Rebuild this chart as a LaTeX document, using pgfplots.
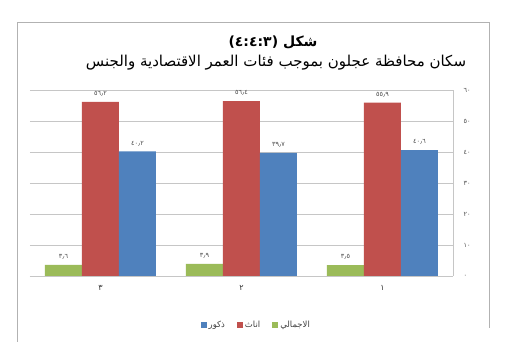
\documentclass[border=0pt]{standalone}
\usepackage{pgfplots}
\pgfplotsset{compat=1.18}
\usepackage{fontspec}
\setmainfont{Liberation Sans}
\newfontfamily\arabicfont[Script=Arabic]{DejaVu Sans}
\TeXXeTstate=1
\definecolor{cgreen}{HTML}{9BBB59}
\definecolor{cred}{HTML}{C0504D}
\definecolor{cblue}{HTML}{4F81BD}
\begin{document}
\begin{tikzpicture}[x=1pt,y=1pt]
\path (0,0) rectangle (507,354);
\draw[gray!60, line width=0.8pt] (17,12)--(17,332)--(489,332)--(489,26);
\node[font=\arabicfont\bfseries\fontsize{14}{15}\selectfont] at (273,312) {\beginR\hbox{شكل}\ \hbox{(٤:٤:٣)}\endR};
\node[font=\arabicfont\fontsize{15}{16}\selectfont] at (276,291) {\beginR سكان محافظة عجلون بموجب فئات العمر الاقتصادية والجنس\endR};
\begin{axis}[
  at={(30pt,78pt)}, anchor=south west,
  scale only axis, width=423pt, height=186pt,
  xmin=-0.5, xmax=2.5, ymin=0, ymax=60,
  ybar=0pt, bar width=37pt,
  xtick={0,1,2}, xticklabels={٣,٢,١},
  ytick={0,10,20,30,40,50,60}, yticklabels={٠,١٠,٢٠,٣٠,٤٠,٥٠,٦٠},
  axis y line*=right, axis x line*=bottom,
  axis line style={draw=gray!45, line width=0.8pt, -},
  major tick length=0pt,
  ymajorgrids, grid style={gray!45, line width=0.8pt},
  yticklabel style={font=\arabicfont\fontsize{6.5}{7}\selectfont, text=black!70, xshift=7pt},
  xticklabel style={font=\arabicfont\fontsize{8}{8}\selectfont, text=black!80, yshift=-6pt},
  point meta=explicit symbolic,
  nodes near coords,
  every node near coord/.append style={font=\arabicfont\fontsize{6.5}{7}\selectfont, text=black!70, yshift=2pt},
  legend image code/.code={\fill[#1,draw=none] (0pt,-3pt) rectangle (6pt,3pt);},
  legend style={at={(0.535,-0.263)}, anchor=center, draw=none, legend columns=3,
    font=\arabicfont\fontsize{8.5}{9}\selectfont, text=black!75,
    /tikz/every even column/.append style={column sep=10pt}},
]
\addplot[fill=cgreen, draw=none, forget plot, bar shift=-37pt] coordinates {(0,3.6) [٣٫٦] (1,3.9) [٣٫٩] (2,3.5) [٣٫٥]};
\addplot[fill=cred, draw=none, forget plot, bar shift=0pt] coordinates {(0,56.2) [٥٦٫٢] (1,56.4) [٥٦٫٤] (2,55.9) [٥٥٫٩]};
\addplot[fill=cblue, draw=none, forget plot, bar shift=37pt] coordinates {(0,40.2) [٤٠٫٢] (1,39.7) [٣٩٫٧] (2,40.6) [٤٠٫٦]};
\addlegendimage{fill=cblue}
\addlegendentry{ذكور}
\addlegendimage{fill=cred}
\addlegendentry{اناث}
\addlegendimage{fill=cgreen}
\addlegendentry{الاجمالي}
\end{axis}
\end{tikzpicture}
\end{document}
